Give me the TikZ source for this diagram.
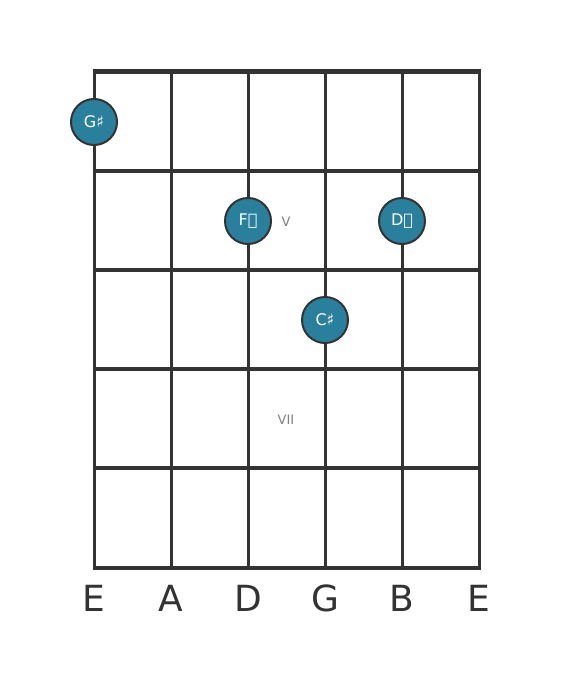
\documentclass[tikz,border=0pt]{standalone}
\usepackage{fontspec}
\setmainfont{DejaVu Sans}
\begin{document}
\begin{tikzpicture}[x=1pt,y=-1pt,
  fret/.style={line width=4pt,color=gridc},
  string/.style={line width=3pt,color=gridc},
  note/.style={circle,draw=gridc,line width=2pt,fill=notec,minimum size=46pt,inner sep=0pt,text=white,font=\fontsize{16}{18}\selectfont},
  roman/.style={text=gray,font=\fontsize{13}{15}\selectfont},
  strname/.style={text=gridc,font=\fontsize{36}{40}\selectfont}]
\definecolor{gridc}{HTML}{333333}
\definecolor{notec}{HTML}{2A809C}
\useasboundingbox (0,0) rectangle (560,682);
\fill[white] (0,0) rectangle (560,682);
\foreach \x [count=\i] in {94,171,248,325,402,479}{
  \coordinate (st\i) at (\x,72);
  \coordinate (sb\i) at (\x,568);
  \draw[string] (st\i) -- (sb\i);
}
\foreach \y [count=\j] in {72,171,270,369,468,568}{
  \coordinate (fl\j) at (92.5,\y);
  \coordinate (fr\j) at (480.5,\y);
  \draw[fret] (fl\j) -- (fr\j);
}
\draw[line width=5pt,color=gridc] (92.5,72) -- (480.5,72);
\node[note] (gs) at (94,122) {G♯};
\node[note] (fx) at (248,221) {F{\fontspec{DejaVu Sans}𝄪}};
\node[note] (dx) at (402,221) {D{\fontspec{DejaVu Sans}𝄪}};
\node[note] (cs) at (325,320) {C♯};
\node[roman] (v) at (286,222) {V};
\node[roman] (vii) at (286,420) {VII};
\foreach \x/\n [count=\i] in {94/E,171/A,248/D,325/G,402/B,479/E}{
  \node[strname] (n\i) at (\x,598) {\n};
}
\end{tikzpicture}
\end{document}
